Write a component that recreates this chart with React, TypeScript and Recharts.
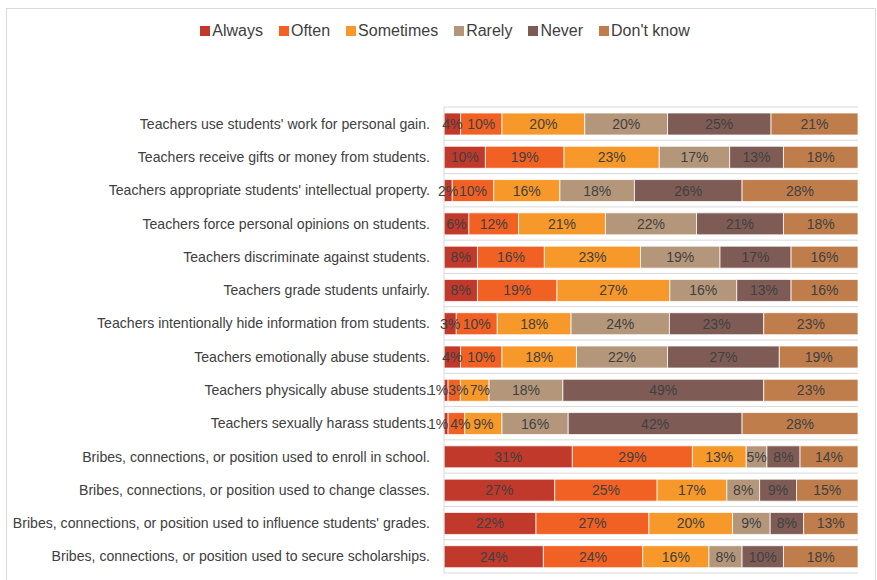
import React from 'react';
import { BarChart, Bar, XAxis, YAxis, CartesianGrid, LabelList } from 'recharts';

const categories = [
  "Teachers use students' work for personal gain.",
  'Teachers receive gifts or money from students.',
  "Teachers appropriate students' intellectual property.",
  'Teachers force personal opinions on students.',
  'Teachers discriminate against students.',
  'Teachers grade students unfairly.',
  'Teachers intentionally hide information from students.',
  'Teachers emotionally abuse students.',
  'Teachers physically abuse students.',
  'Teachers sexually harass students.',
  'Bribes, connections, or position used to enroll in school.',
  'Bribes, connections, or position used to change classes.',
  "Bribes, connections, or position used to influence students' grades.",
  'Bribes, connections, or position used to secure scholarships.',
];

const always = [4, 10, 2, 6, 8, 8, 3, 4, 1, 1, 31, 27, 22, 24];
const often = [10, 19, 10, 12, 16, 19, 10, 10, 3, 4, 29, 25, 27, 24];
const sometimes = [20, 23, 16, 21, 23, 27, 18, 18, 7, 9, 13, 17, 20, 16];
const rarely = [20, 17, 18, 22, 19, 16, 24, 22, 18, 16, 5, 8, 9, 8];
const never = [25, 13, 26, 21, 17, 13, 23, 27, 49, 42, 8, 9, 8, 10];
const dontKnow = [21, 18, 28, 18, 16, 16, 23, 19, 23, 28, 14, 15, 13, 18];

const series = [
  { key: 'always', name: 'Always', color: '#c0392b', values: always },
  { key: 'often', name: 'Often', color: '#f26124', values: often },
  { key: 'sometimes', name: 'Sometimes', color: '#f7982a', values: sometimes },
  { key: 'rarely', name: 'Rarely', color: '#b4977b', values: rarely },
  { key: 'never', name: 'Never', color: '#7e5c55', values: never },
  { key: 'dontKnow', name: "Don't know", color: '#bf7d4c', values: dontKnow },
];

const data = categories.map((name, i) => {
  const row: Record<string, string | number> = { name };
  series.forEach((s) => {
    row[s.key] = s.values[i];
  });
  return row;
});

const FONT = 'Liberation Sans, Arial, sans-serif';

// tiny segments: nudge labels apart a little, like the original does
const makeLabel = (seriesKey: string) => (props: any) => {
  const { x, y, width, height, value } = props;
  let nudge = 0;
  if (seriesKey === 'always' && value <= 1) nudge = -8;
  if (seriesKey === 'often' && value <= 4) nudge = 4;
  if (seriesKey === 'sometimes' && value <= 7) nudge = 5;
  return (
    <text
      x={x + width / 2 + nudge}
      y={y + height / 2}
      textAnchor="middle"
      dominantBaseline="central"
      fill="#404040"
      fontSize={14}
      fontFamily={FONT}
    >
      {`${value}%`}
    </text>
  );
};

export default function App() {
  return (
    <div
      style={{
        position: 'absolute',
        left: 0,
        top: 0,
        width: 877,
        height: 580,
        background: '#fff',
        fontFamily: FONT,
        overflow: 'hidden',
      }}
    >
      <div
        style={{
          position: 'absolute',
          left: 6,
          top: 8,
          width: 868,
          height: 590,
          border: '1px solid #d9d9d9',
        }}
      />
      {/* legend kept outside the chart so it doesn't push the plot down */}
      <div
        style={{
          position: 'absolute',
          left: 0,
          top: 21,
          width: 890,
          display: 'flex',
          justifyContent: 'center',
          gap: 16,
          fontSize: 16,
          color: '#404040',
          lineHeight: '20px',
        }}
      >
        {series.map((s) => (
          <div key={s.key} style={{ display: 'flex', alignItems: 'center', gap: 2 }}>
            <span style={{ width: 10, height: 10, background: s.color, display: 'inline-block' }} />
            <span>{s.name}</span>
          </div>
        ))}
      </div>
      <BarChart
        width={877}
        height={580}
        data={data}
        layout="vertical"
        stackOffset="expand"
        barSize={22}
        margin={{ top: 107, right: 19, bottom: 7, left: 0 }}
        style={{ position: 'absolute', left: 0, top: 0 }}
      >
        <CartesianGrid
          vertical={false}
          stroke="#d9d9d9"
          horizontalCoordinatesGenerator={({ offset }: any) =>
            categories
              .map((_, i) => offset.top + (i * offset.height) / categories.length)
              .concat(offset.top + offset.height)
          }
        />
        <XAxis type="number" domain={[0, 1]} hide />
        <YAxis
          type="category"
          dataKey="name"
          width={444}
          axisLine={{ stroke: '#d9d9d9' }}
          tickLine={false}
          tickMargin={8}
          interval={0}
          tick={{ fill: '#404040', fontSize: 14.1, fontFamily: FONT }}
        />
        {series.map((s) => (
          <Bar
            key={s.key}
            dataKey={s.key}
            name={s.name}
            stackId="a"
            fill={s.color}
            stroke="#ffffff"
            strokeWidth={0.75}
            isAnimationActive={false}
          >
            <LabelList dataKey={s.key} content={makeLabel(s.key)} />
          </Bar>
        ))}
      </BarChart>
    </div>
  );
}
